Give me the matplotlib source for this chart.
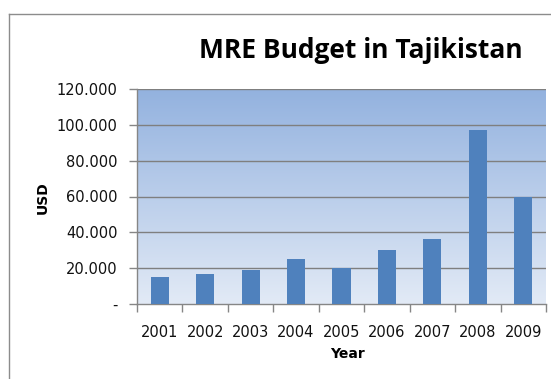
import matplotlib
matplotlib.use("Agg")
import matplotlib.pyplot as plt
import numpy as np
from matplotlib.lines import Line2D
from matplotlib.colors import LinearSegmentedColormap

years = ["2001", "2002", "2003", "2004", "2005", "2006", "2007", "2008", "2009"]
budget = [15000, 17000, 19000, 25000, 20000, 30000, 36500, 97000, 60000]
yticks = [0, 20000, 40000, 60000, 80000, 100000, 120000]
ytick_labels = ["-", "20.000", "40.000", "60.000", "80.000", "100.000", "120.000"]

W, H = 551, 379
fig = plt.figure(figsize=(W / 100, H / 100), dpi=100)
fig.patch.set_facecolor("white")

# outer chart border (left and top visible)
fig.add_artist(Line2D([9 / W, 9 / W], [0, 1 - 14 / H], transform=fig.transFigure, color="#8c8c8c", lw=1))
fig.add_artist(Line2D([9 / W, 1], [1 - 14 / H, 1 - 14 / H], transform=fig.transFigure, color="#8c8c8c", lw=1))

left, right, top, bottom = 137, 546, 89, 304
ax = fig.add_axes([left / W, 1 - bottom / H, (right - left) / W, (bottom - top) / H])

# gradient background
cmap = LinearSegmentedColormap.from_list("bg", ["#e2eaf6", "#93b2df"])
grad = np.linspace(0, 1, 256).reshape(-1, 1)
ax.imshow(grad, aspect="auto", cmap=cmap, origin="lower",
          extent=[-0.5, len(years) - 0.5, 0, 120000], zorder=0)

x = np.arange(len(years))
ax.bar(x, budget, width=0.4, color="#4f81bd", zorder=3)

ax.set_xlim(-0.5, len(years) - 0.5)
ax.set_ylim(0, 120000)
ax.set_yticks(yticks)
ax.set_yticklabels(ytick_labels, fontsize=10.5, family="DejaVu Sans", color="#111111")
ax.set_xticks(x)
ax.set_xticklabels(years, fontsize=10.5, family="DejaVu Sans", color="#111111")
ax.set_xticks(np.arange(-0.5, len(years), 1), minor=True)
ax.tick_params(axis="x", which="major", length=0, pad=15)
ax.tick_params(axis="x", which="minor", length=6, color="#868686", width=1, direction="out")
ax.tick_params(axis="y", length=6, color="#868686", width=1, pad=8)

for v in yticks[1:]:
    ax.axhline(v, color="#7f7f7f", lw=1, zorder=2)

for s in ["top", "right"]:
    ax.spines[s].set_visible(False)
for s in ["left", "bottom"]:
    ax.spines[s].set_color("#868686")
    ax.spines[s].set_linewidth(1)

fig.text(361 / W, 1 - 50 / H, "MRE Budget in Tajikistan", ha="center", va="center",
         fontsize=19, fontweight="bold", family="Open Sans")
fig.text(43 / W, 1 - 198 / H, "USD", ha="center", va="center", rotation=90,
         fontsize=10, fontweight="bold", family="DejaVu Sans")
fig.text(347 / W, 1 - 354 / H, "Year", ha="center", va="center",
         fontsize=10, fontweight="bold", family="DejaVu Sans")

fig.savefig("out.png", dpi=100)
